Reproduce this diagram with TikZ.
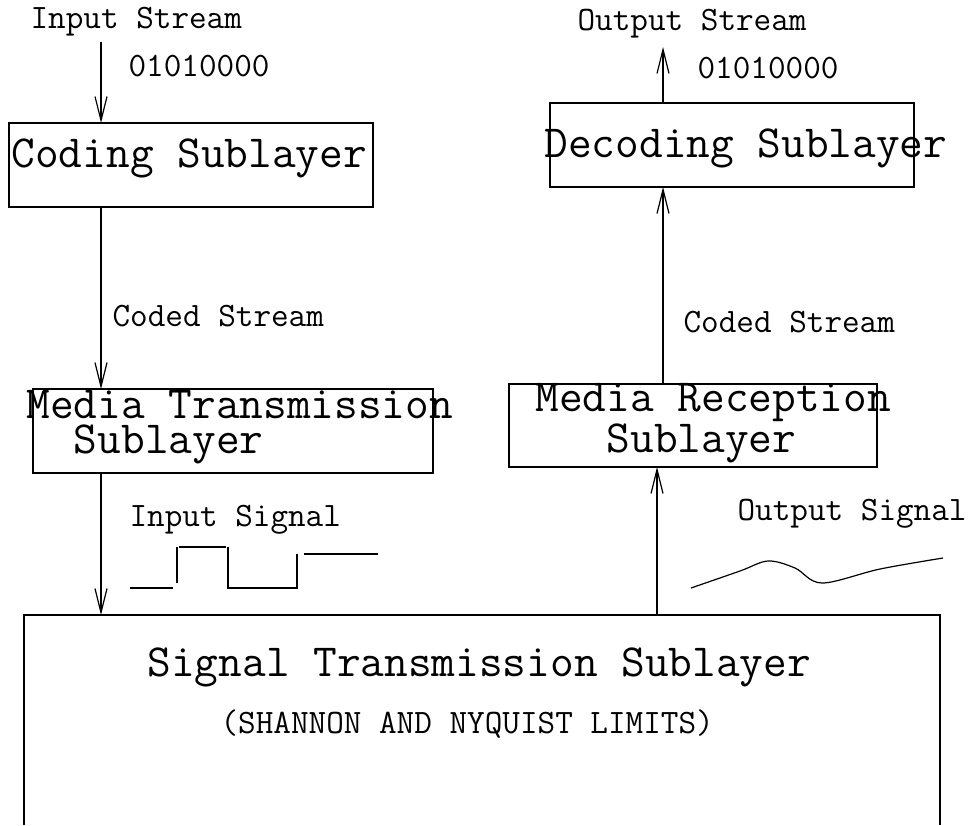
\documentclass[tikz,border=0pt]{standalone}
\usepackage{tikz}
\usetikzlibrary{arrows.meta}

\tikzset{
	layer/.style={draw,inner sep=0pt,outer sep=0pt},
	big/.style={font=\ttfamily\fontsize{23}{17.5}\selectfont,inner sep=0pt,anchor=base west,align=left},
	small/.style={font=\ttfamily\fontsize{17.1}{19}\selectfont,inner sep=0pt,anchor=base west},
}

\begin{document}
\begin{tikzpicture}[x=0.5pt,y=-0.5pt,line width=0.6pt]
	\useasboundingbox (0,0) rectangle (973,825);
	% boxes
	\node[layer,minimum width=182pt,minimum height=42pt] (C) at (191,165) {};
	\node[layer,minimum width=200pt,minimum height=42pt] (M) at (233,431) {};
	\node[layer,minimum width=182pt,minimum height=42pt] (D) at (732,145) {};
	\node[layer,minimum width=184pt,minimum height=41.5pt] (R) at (693,425.5) {};
	\node[layer,draw=none,minimum width=458pt,minimum height=105pt] (S) at (482,720) {};
	\draw (S.south west) -- (S.north west) -- (S.north east) -- (S.south east);
	%
	% texts
	\node[big] (Ct) at (11,167) {Coding Sublayer};
	\node[big] (Mt) at (26,453) {Media Transmission\\\phantom{xx}Sublayer};
	\node[big] (Dt) at (544,157) {Decoding Sublayer};
	\node[big] (Rt) at (535,452) {Media Reception\\\phantom{xxx}Sublayer};
	\node[big] (St) at (147,676) {Signal Transmission Sublayer};
	\node[small] (Sl) at (220,733) {(SHANNON AND NYQUIST LIMITS)};
	%
	\node[small] (in) at (30,28) {Input Stream};
	\node[small] (inb) at (128,76) {01010000};
	\node[small] (cs) at (112,326) {Coded Stream};
	\node[small] (isig) at (129,526) {Input Signal};
	\node[small] (out) at (577,30) {Output Stream};
	\node[small] (outb) at (697,78) {01010000};
	\node[small] (cs') at (683,332) {Coded Stream};
	\node[small] (osig) at (737,520) {Output Signal};
	%
	% signals
	\draw (130,588) -- (173,588) (177,583) -- (177,547) (179,547) -- (226,547)
	(228,547) -- (228,588) -- (297,588) -- (297,554) (304,554) -- (378,554);
	\draw plot[smooth,tension=0.55] coordinates {(691,588) (740,571) (768,561) (795,568) (822,583) (880,569) (943,558)};
	%
	\coordinate (i) at (101,42);
	\coordinate (r) at (657,540);
	\coordinate (o) at (663,47);
	%
	\path[->,>={Straight Barb[length=12pt,width=6pt]}]
	(i) edge (C.north -| i)
	(C.south -| i) edge (M.north -| i)
	(M.south -| i) edge (S.north -| i)
	(S.north -| r) edge (R.south -| r)
	(R.north -| o) edge (D.south -| o)
	(D.north -| o) edge (o);
\end{tikzpicture}
\end{document}
